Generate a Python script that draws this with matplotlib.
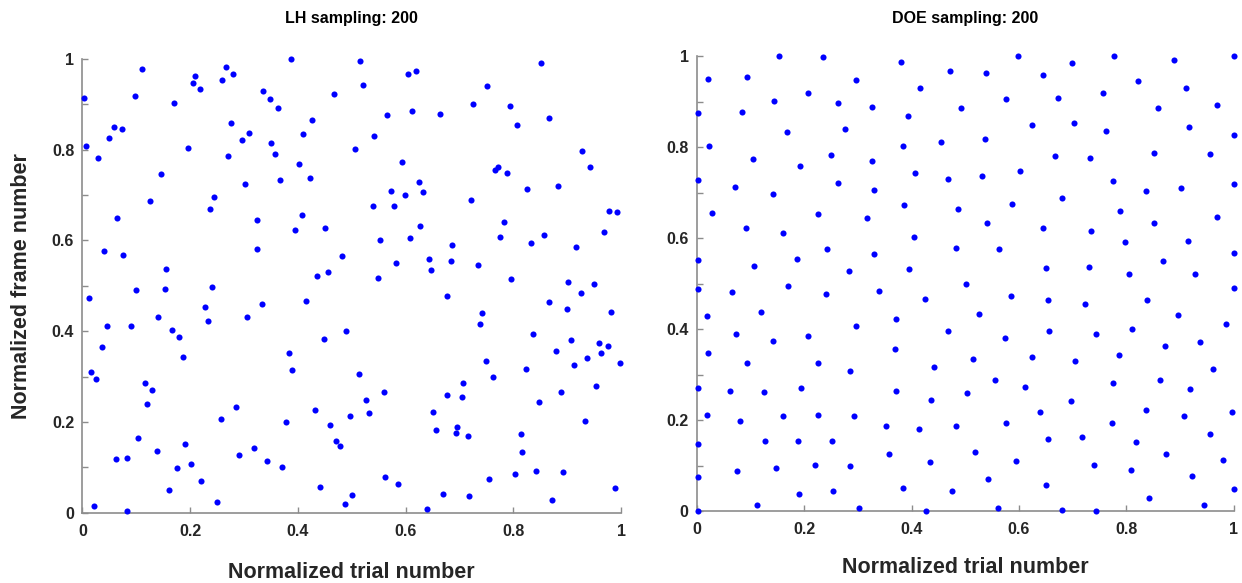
import numpy as np
import matplotlib.pyplot as plt

plt.rcParams['font.family'] = ['Liberation Sans', 'DejaVu Sans']
plt.rcParams['font.weight'] = 'bold'

# LH sampling (200 points)
lh_x = [0.110, 0.267, 0.279, 0.209, 0.206, 0.260, 0.219, 0.002, 0.098, 0.170,
        0.276, 0.309, 0.297, 0.058, 0.073, 0.050, 0.007, 0.028, 0.196, 0.270,
        0.145, 0.302, 0.245, 0.236, 0.125, 0.064, 0.325, 0.324, 0.040, 0.075,
        0.156, 0.240,
        0.387, 0.515, 0.605, 0.619, 0.520, 0.335, 0.349, 0.363, 0.467, 0.427,
        0.565, 0.612, 0.664, 0.410, 0.542, 0.506, 0.350, 0.357, 0.403, 0.423,
        0.367, 0.593, 0.624, 0.573, 0.598, 0.632, 0.540, 0.578, 0.408, 0.395,
        0.450, 0.626, 0.553, 0.609, 0.481, 0.582, 0.644, 0.648, 0.435, 0.456,
        0.548,
        0.851, 0.751, 0.726, 0.794, 0.867, 0.806, 0.927, 0.942, 0.772, 0.766,
        0.788, 0.826, 0.883, 0.721, 0.978, 0.993, 0.782, 0.776, 0.857, 0.833,
        0.969, 0.916, 0.687, 0.685, 0.734, 0.796, 0.902, 0.950,
        0.012, 0.100, 0.153, 0.227, 0.233, 0.306, 0.141, 0.045, 0.090, 0.166,
        0.179, 0.036, 0.186, 0.016, 0.025, 0.117, 0.130, 0.120, 0.286, 0.257,
        0.104, 0.138, 0.190, 0.318, 0.291, 0.063, 0.083, 0.201, 0.175, 0.220,
        0.161, 0.250, 0.022, 0.083,
        0.333, 0.416, 0.490, 0.448, 0.383, 0.390, 0.514, 0.559, 0.527, 0.432,
        0.497, 0.532, 0.378, 0.460, 0.471, 0.479, 0.343, 0.370, 0.561, 0.586,
        0.442, 0.500, 0.487, 0.639, 0.650, 0.656, 0.669,
        0.676, 0.926, 0.866, 0.899, 0.982, 0.741, 0.738, 0.837, 0.908, 0.959,
        0.976, 0.962, 0.879, 0.937, 0.912, 0.998, 0.749, 0.762, 0.824, 0.706,
        0.677, 0.704, 0.889, 0.954, 0.847, 0.933, 0.696, 0.693, 0.715, 0.814,
        0.817, 0.804, 0.842, 0.892, 0.755, 0.988, 0.718, 0.872]
lh_y = [0.978, 0.982, 0.966, 0.962, 0.948, 0.954, 0.934, 0.914, 0.918, 0.904,
        0.858, 0.837, 0.821, 0.851, 0.846, 0.826, 0.809, 0.781, 0.803, 0.787,
        0.746, 0.724, 0.696, 0.670, 0.686, 0.649, 0.645, 0.582, 0.576, 0.569,
        0.537, 0.498,
        0.999, 0.996, 0.968, 0.974, 0.943, 0.930, 0.912, 0.891, 0.923, 0.866,
        0.876, 0.886, 0.878, 0.835, 0.831, 0.801, 0.815, 0.791, 0.769, 0.738,
        0.734, 0.773, 0.729, 0.708, 0.701, 0.707, 0.677, 0.676, 0.656, 0.623,
        0.627, 0.632, 0.601, 0.605, 0.566, 0.550, 0.560, 0.536, 0.522, 0.530,
        0.518,
        0.991, 0.941, 0.901, 0.896, 0.870, 0.854, 0.798, 0.762, 0.763, 0.756,
        0.749, 0.713, 0.721, 0.689, 0.665, 0.662, 0.640, 0.607, 0.612, 0.595,
        0.618, 0.585, 0.590, 0.555, 0.546, 0.515, 0.508, 0.504,
        0.474, 0.491, 0.494, 0.453, 0.423, 0.432, 0.432, 0.411, 0.412, 0.403,
        0.388, 0.365, 0.343, 0.309, 0.294, 0.286, 0.271, 0.240, 0.233, 0.207,
        0.164, 0.136, 0.152, 0.142, 0.127, 0.119, 0.121, 0.107, 0.098, 0.070,
        0.051, 0.024, 0.015, 0.004,
        0.460, 0.467, 0.401, 0.382, 0.351, 0.315, 0.305, 0.267, 0.249, 0.227,
        0.213, 0.220, 0.199, 0.193, 0.157, 0.147, 0.114, 0.101, 0.079, 0.063,
        0.057, 0.040, 0.020, 0.009, 0.221, 0.182, 0.041,
        0.478, 0.485, 0.465, 0.448, 0.443, 0.440, 0.417, 0.393, 0.381, 0.374,
        0.368, 0.353, 0.357, 0.341, 0.325, 0.331, 0.335, 0.299, 0.317, 0.285,
        0.260, 0.256, 0.267, 0.279, 0.244, 0.202, 0.188, 0.176, 0.168, 0.174,
        0.133, 0.086, 0.091, 0.090, 0.074, 0.055, 0.036, 0.029]

# DOE sampling (200 points)
doe_x = [0.153, 0.234, 0.021, 0.094, 0.296, 0.206, 0.144, 0.262, 0.327, 0.001,
         0.083, 0.168, 0.276, 0.022, 0.104, 0.192, 0.250, 0.327, 0.001, 0.071,
         0.142, 0.262, 0.329, 0.028, 0.226, 0.317, 0.091, 0.161, 0.242, 0.330,
         0.001, 0.186, 0.107, 0.283,
         0.381, 0.598, 0.472, 0.539, 0.644, 0.415, 0.576, 0.672, 0.492, 0.393,
         0.625, 0.383, 0.454, 0.537, 0.667, 0.406, 0.467, 0.531, 0.602, 0.385,
         0.486, 0.588, 0.541, 0.644, 0.405, 0.482, 0.563, 0.396, 0.651,
         0.698, 0.778, 0.889, 1.000, 0.821, 0.912, 0.756, 0.970, 0.859, 0.702,
         0.762, 0.917, 1.000, 0.732, 0.851, 0.957, 0.775, 0.837, 0.902, 1.000,
         0.680, 0.788, 0.851, 0.969, 0.735, 0.798, 0.915, 1.000, 0.868, 0.730,
         0.806, 0.929,
         0.002, 0.066, 0.169, 0.241, 0.019, 0.120, 0.296, 0.073, 0.142, 0.207,
         0.020, 0.094, 0.225, 0.285, 0.001, 0.062, 0.124, 0.194, 0.018, 0.080,
         0.161, 0.226, 0.293, 0.001, 0.126, 0.189, 0.252, 0.001, 0.074, 0.147,
         0.220, 0.285, 0.191, 0.253, 0.111, 0.001, 0.302,
         0.339, 0.424, 0.501, 0.586, 0.654, 0.370, 0.526, 0.468, 0.574, 0.656,
         0.369, 0.514, 0.625, 0.442, 0.555, 0.612, 0.371, 0.437, 0.503, 0.640,
         0.352, 0.414, 0.482, 0.576, 0.654, 0.358, 0.435, 0.518, 0.594, 0.384,
         0.476, 0.543, 0.651, 0.427, 0.561,
         1.000, 0.723, 0.838, 0.897, 0.986, 0.743, 0.811, 0.873, 0.937, 0.705,
         0.786, 0.962, 0.776, 0.862, 0.919, 0.697, 0.836, 0.908, 0.998, 0.773,
         0.718, 0.819, 0.957, 0.875, 0.981, 0.739, 0.808, 0.923, 1.000, 0.843,
         0.944, 0.681, 0.744]
doe_y = [1.000, 0.999, 0.950, 0.955, 0.948, 0.920, 0.903, 0.898, 0.889, 0.876,
         0.878, 0.833, 0.840, 0.802, 0.775, 0.759, 0.783, 0.771, 0.728, 0.713,
         0.698, 0.721, 0.706, 0.656, 0.653, 0.644, 0.623, 0.611, 0.576, 0.565,
         0.552, 0.555, 0.539, 0.527,
         0.988, 1.000, 0.967, 0.964, 0.960, 0.931, 0.906, 0.908, 0.886, 0.868,
         0.849, 0.804, 0.811, 0.818, 0.781, 0.744, 0.730, 0.736, 0.749, 0.673,
         0.664, 0.675, 0.634, 0.622, 0.603, 0.579, 0.577, 0.532, 0.535,
         0.985, 1.000, 0.993, 1.000, 0.945, 0.930, 0.920, 0.894, 0.886, 0.854,
         0.835, 0.844, 0.827, 0.776, 0.788, 0.785, 0.726, 0.703, 0.711, 0.719,
         0.689, 0.659, 0.634, 0.646, 0.615, 0.591, 0.595, 0.567, 0.549, 0.536,
         0.522, 0.521,
         0.489, 0.482, 0.496, 0.477, 0.430, 0.438, 0.406, 0.390, 0.373, 0.385,
         0.348, 0.326, 0.325, 0.308, 0.271, 0.264, 0.262, 0.270, 0.211, 0.199,
         0.210, 0.211, 0.208, 0.147, 0.154, 0.154, 0.154, 0.075, 0.087, 0.095,
         0.101, 0.098, 0.037, 0.045, 0.013, 0.000, 0.007,
         0.484, 0.467, 0.499, 0.472, 0.464, 0.423, 0.434, 0.395, 0.381, 0.397,
         0.356, 0.334, 0.339, 0.317, 0.289, 0.272, 0.263, 0.244, 0.259, 0.218,
         0.188, 0.180, 0.188, 0.193, 0.159, 0.125, 0.108, 0.130, 0.111, 0.051,
         0.045, 0.070, 0.057, 0.000, 0.007,
         0.490, 0.456, 0.464, 0.431, 0.412, 0.389, 0.400, 0.363, 0.372, 0.330,
         0.343, 0.312, 0.281, 0.288, 0.269, 0.241, 0.223, 0.210, 0.217, 0.194,
         0.163, 0.152, 0.170, 0.125, 0.112, 0.101, 0.090, 0.078, 0.048, 0.029,
         0.013, 0.002, 0.001]

ticks = [0, 0.2, 0.4, 0.6, 0.8, 1]
tick_labels = ['0', '0.2', '0.4', '0.6', '0.8', '1']

fig = plt.figure(figsize=(12.42, 5.83), dpi=100)
ax1 = fig.add_axes([0.0664, 0.1206, 0.4336, 0.7782])
ax2 = fig.add_axes([0.5612, 0.1235, 0.4320, 0.7796])

panels = [(ax1, lh_x, lh_y, 'LH sampling: 200', 16.5, 26),
          (ax2, doe_x, doe_y, 'DOE sampling: 200', 14.5, 24)]

for ax, xs, ys, title, lpad, tpad in panels:
    ax.plot(xs, ys, 'o', color='#0000ff', ms=4.4, mec='none', clip_on=False, zorder=3)
    ax.set_xlim(0, 1)
    ax.set_ylim(0, 1)
    ax.set_xticks(ticks)
    ax.set_xticklabels(tick_labels)
    ax.set_yticks(ticks)
    ax.set_yticklabels(tick_labels)
    ax.set_yticks(np.arange(0.1, 1.0, 0.2), minor=True)
    ax.spines['top'].set_visible(False)
    ax.spines['right'].set_visible(False)
    for s in ['left', 'bottom']:
        ax.spines[s].set_color('#8c8c8c')
        ax.spines[s].set_linewidth(1.2)
    ax.tick_params(which='both', direction='in', length=4, width=1, color='#8c8c8c',
                   labelsize=11.5, labelcolor='#262626')
    ax.tick_params(axis='x', pad=8)
    ax.tick_params(axis='y', pad=6)
    for lbl in ax.get_xticklabels() + ax.get_yticklabels():
        lbl.set_fontweight('bold')
    ax.set_title(title, fontsize=11.5, fontweight='bold', pad=tpad)
    ax.set_xlabel('Normalized trial number', fontsize=15.5, fontweight='bold',
                  color='#262626', labelpad=lpad)

ax1.set_ylabel('Normalized frame number', fontsize=15.5, fontweight='bold',
               color='#262626', labelpad=14)

fig.savefig('out.png', dpi=100)
